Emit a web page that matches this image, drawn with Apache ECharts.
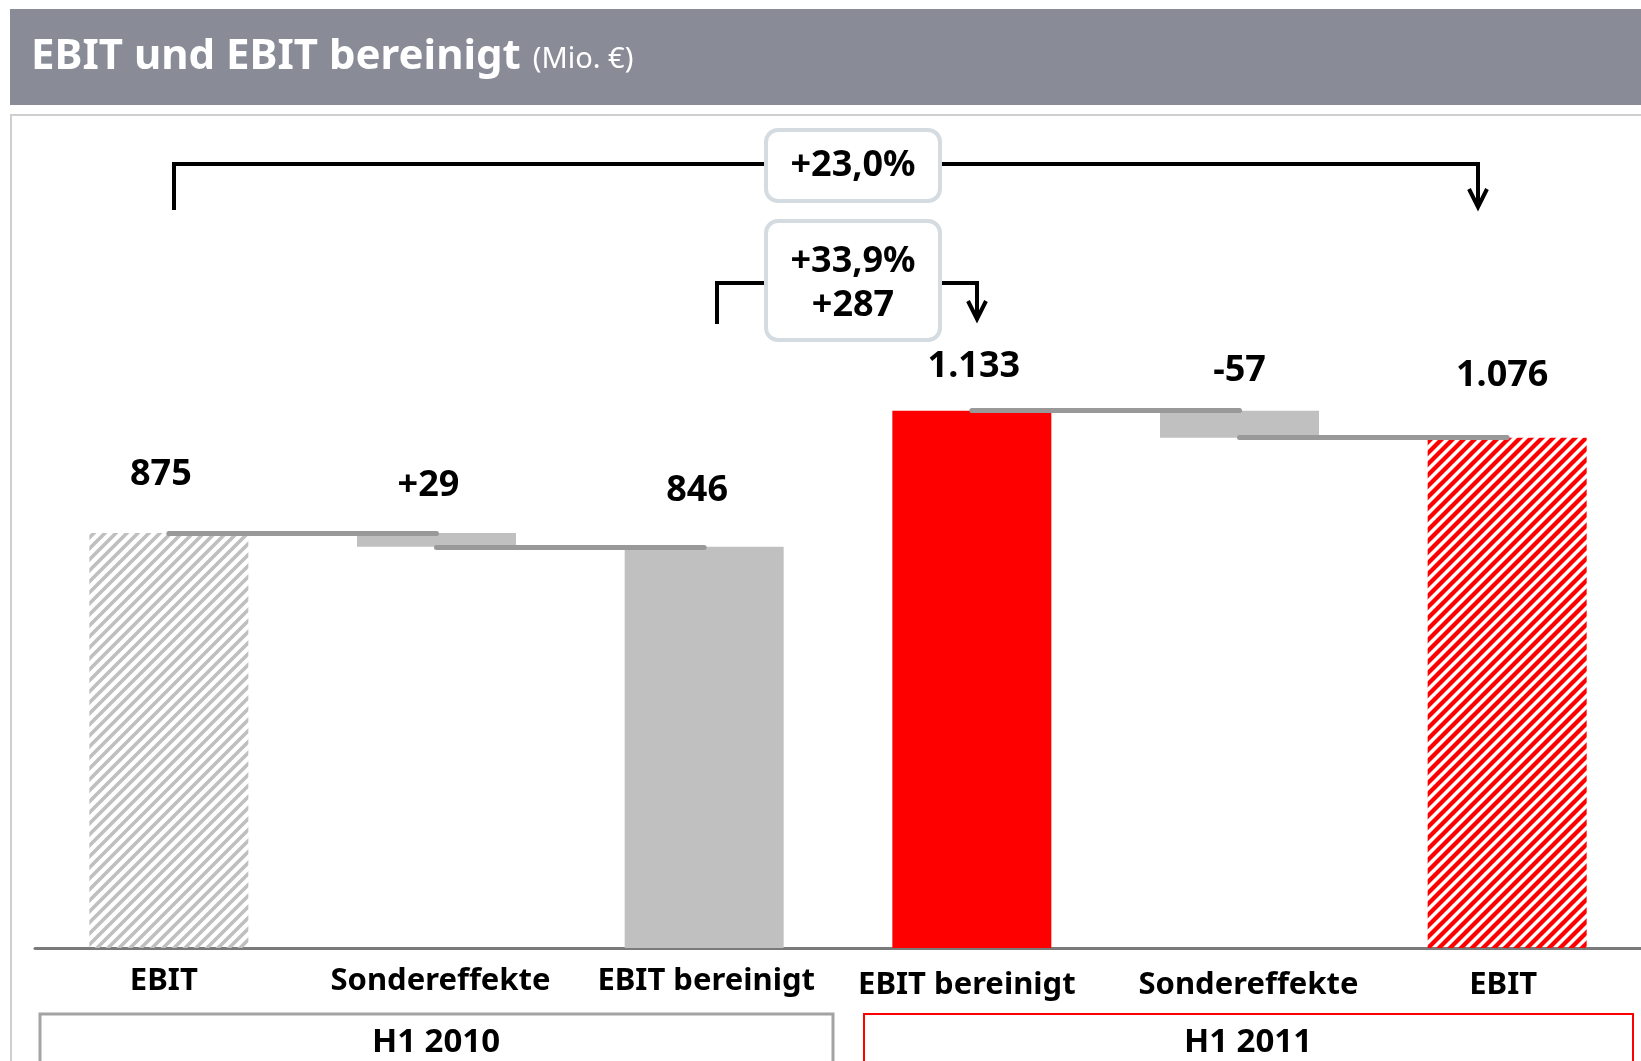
<!DOCTYPE html>
<html>
<head>
<meta charset="utf-8">
<script src="https://cdn.jsdelivr.net/npm/echarts@6/dist/echarts.min.js"></script>
<style>
    html, body { margin: 0; padding: 0; background: #fff; }
    #chart { width: 1641px; height: 1061px; }
</style>
</head>
<body>
<div id="chart"></div>
<script type="text/javascript">

    // chart data
    var categories   = ['EBIT', 'Sondereffekte', 'EBIT bereinigt', 'EBIT bereinigt', 'Sondereffekte', 'EBIT'];
    var baseValues   = [0, 846, 0, 0, 1076, 0];          // invisible part under floating bars
    var barValues    = [875, 29, 846, 1133, 57, 1076];
    var valueLabels  = ['875', '+29', '846', '1.133', '-57', '1.076'];
    var connectors   = [[0, 1, 875], [1, 2, 846], [3, 4, 1133], [4, 5, 1076]];   // [from, to, level]
    var periodLabels = ['H1 2010', 'H1 2011'];
    var changeTotal  = '+23,0%';
    var changeAdj    = ['+33,9%', '+287'];

    var FONT = '"Noto Sans", "Liberation Sans", sans-serif';

    function stripes(color, lw) {
        var n = 11;
        var c = document.createElement('canvas');
        c.width = n; c.height = n;
        var g = c.getContext('2d');
        g.strokeStyle = color;
        g.lineWidth = lw;
        g.beginPath();
        g.moveTo(-2, n + 2); g.lineTo(n + 2, -2);
        g.moveTo(-3, 3);  g.lineTo(3, -3);
        g.moveTo(n - 3, n + 3);  g.lineTo(n + 3, n - 3);
        g.stroke();
        return c;
    }

    var barColors = [
        { image: stripes('#bfbfbf', 3.6), repeat: 'repeat' },
        '#c0c0c0',
        '#c0c0c0',
        '#ff0000',
        '#c0c0c0',
        { image: stripes('#ff0000', 4.3), repeat: 'repeat' }
    ];
    var labelDist  = [40, 29, 38, 26, 22, 44];
    var labelShift = [-8, -8, -7, 2, 0, -5];
    var catShift   = [-5, 4, 2, -5, 9, -4];

    var chart = echarts.init(document.getElementById('chart'));

    var valueData = barValues.map(function (v, i) {
        return {
            value: v,
            itemStyle: { color: barColors[i] },
            label: { distance: labelDist[i], offset: [labelShift[i], 0] }
        };
    });

    var catData = categories.map(function (c, i) {
        var s = catShift[i];
        return {
            value: c,
            textStyle: { padding: [i < 3 ? 0 : 4, s < 0 ? -2 * s : 0, 0, s > 0 ? 2 * s : 0] }
        };
    });

    var markData = connectors.map(function (c) {
        return [{ coord: [c[0], c[2]] }, { coord: [c[1], c[2]] }];
    });

    function bracketBox(x, y, w, h) {
        return {
            type: 'rect',
            shape: { x: x, y: y, width: w, height: h, r: 12 },
            style: { fill: '#fff', stroke: '#d5dce1', lineWidth: 4 },
            z: 10
        };
    }
    function pline(points, z) {
        return {
            type: 'polyline',
            shape: { points: points },
            style: { stroke: '#000', lineWidth: 4, fill: null },
            z: z || 9
        };
    }
    function arrowHead(x, y) {
        return pline([[x - 9, y - 18], [x, y], [x + 9, y - 18]]);
    }

    chart.setOption({
        animation: false,
        grid: { left: 35, right: 0, top: 118, bottom: 113 },
        xAxis: {
            type: 'category',
            data: catData,
            axisTick: { show: false },
            axisLine: { lineStyle: { color: '#7a7a7a', width: 3 } },
            axisLabel: {
                interval: 0,
                margin: 18,
                color: '#000',
                fontFamily: FONT,
                fontWeight: 'bold',
                fontSize: 31
            }
        },
        yAxis: {
            type: 'value',
            min: 0,
            max: 1750,
            show: false,
            splitLine: { show: false }
        },
        series: [
            {
                type: 'bar',
                stack: 'wf',
                barWidth: 159,
                silent: true,
                itemStyle: { color: 'rgba(0,0,0,0)' },
                data: baseValues
            },
            {
                type: 'bar',
                stack: 'wf',
                barWidth: 159,
                silent: true,
                data: valueData,
                label: {
                    show: true,
                    position: 'top',
                    color: '#000',
                    fontFamily: FONT,
                    fontWeight: 'bold',
                    fontSize: 36,
                    formatter: function (p) { return valueLabels[p.dataIndex]; }
                },
                markLine: {
                    silent: true,
                    symbol: 'none',
                    label: { show: false },
                    lineStyle: { color: '#999', width: 5, type: 'solid', cap: 'round' },
                    data: markData
                }
            }
        ],
        graphic: [
            // header bar
            { type: 'rect', shape: { x: 10, y: 9, width: 1640, height: 96 }, style: { fill: '#898c96' } },
            {
                type: 'text', x: 31, y: 57,
                style: {
                    text: '{a|EBIT und EBIT bereinigt}{b|(Mio. €)}',
                    verticalAlign: 'middle',
                    rich: {
                        a: { fontFamily: FONT, fontWeight: 'bold', fontSize: 42, fill: '#fff' },
                        b: { fontFamily: FONT, fontSize: 29, fill: '#fff', padding: [6, 0, 0, 12] }
                    }
                }
            },
            // panel frame
            { type: 'polyline', shape: { points: [[11, 1061], [11, 115], [1641, 115]] }, style: { stroke: '#cfcfcf', lineWidth: 2, fill: null } },

            // +23,0% bracket
            pline([[174, 210], [174, 164], [1478, 164], [1478, 206]]),
            arrowHead(1478, 207),
            bracketBox(766, 130, 174, 71),
            {
                type: 'text', x: 853, y: 166, z: 11,
                style: { text: changeTotal, align: 'center', verticalAlign: 'middle', fontFamily: FONT, fontWeight: 'bold', fontSize: 36, fill: '#000' }
            },

            // +33,9% bracket
            pline([[717, 324], [717, 283], [977, 283], [977, 318]]),
            arrowHead(977, 319),
            bracketBox(766, 221, 174, 119),
            {
                type: 'text', x: 853, y: 284, z: 11,
                style: { text: changeAdj.join('\n'), align: 'center', verticalAlign: 'middle', lineHeight: 44, fontFamily: FONT, fontWeight: 'bold', fontSize: 36, fill: '#000' }
            },

            // period boxes
            { type: 'rect', shape: { x: 40, y: 1014, width: 793, height: 80 }, style: { fill: '#fff', stroke: '#a3a3a3', lineWidth: 3 } },
            { type: 'rect', shape: { x: 864, y: 1014, width: 769, height: 80 }, style: { fill: '#fff', stroke: '#ff0000', lineWidth: 2 } },
            {
                type: 'text', x: 436, y: 1043, z: 11,
                style: { text: periodLabels[0], align: 'center', verticalAlign: 'middle', fontFamily: FONT, fontWeight: 'bold', fontSize: 33, fill: '#000' }
            },
            {
                type: 'text', x: 1248, y: 1043, z: 11,
                style: { text: periodLabels[1], align: 'center', verticalAlign: 'middle', fontFamily: FONT, fontWeight: 'bold', fontSize: 33, fill: '#000' }
            }
        ]
    });
</script>
</body>
</html>
